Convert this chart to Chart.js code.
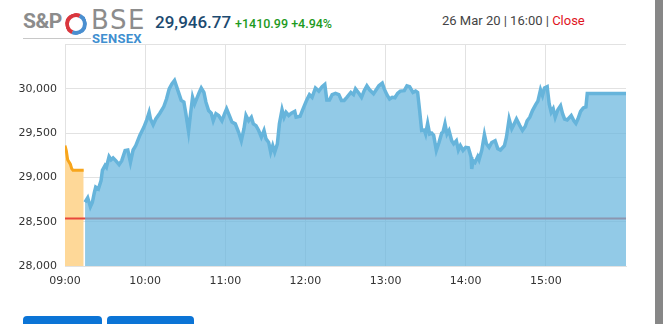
<!DOCTYPE html>
<html>
<head>
<meta charset="utf-8">
<script src="https://cdn.jsdelivr.net/npm/chart.js@4.4.1/dist/chart.umd.min.js"></script>
<style>
  body { margin: 0; width: 663px; height: 324px; overflow: hidden; background: #fff; position: relative; font-family: Roboto, sans-serif; }
  #logo { position: absolute; left: 23px; top: 8px; width: 125px; height: 40px; }
  #sp { position: absolute; left: 0; top: 1px; font: bold 21px Roboto, sans-serif; color: #8c8c8c; letter-spacing: -0.5px; }
  #swirl { position: absolute; left: 42px; top: 5px; width: 14px; height: 14px; border-radius: 50%;
           border: 4px solid #d9363e; border-bottom-color: #4a8fd0; border-right-color: #4a8fd0; transform: rotate(-20deg); }
  #bse { position: absolute; left: 68px; top: -3px; font: 26px "DejaVu Sans", sans-serif; color: #8c8c8c; letter-spacing: 1.5px; }
  #sensex { position: absolute; left: 69px; top: 23px; font: bold 13px Roboto, sans-serif; color: #3f8fd0; letter-spacing: 0.3px; }
  #rule { position: absolute; left: 0; top: 30px; width: 68px; height: 1px; background: #c8c8c8; }
  #price { position: absolute; left: 155px; top: 12px; font: 500 17px Roboto, sans-serif; color: #1c4a70; }
  #chg { position: absolute; left: 235px; top: 16px; font: 500 12.5px Roboto, sans-serif; color: #1e9a1e; }
  #stamp { position: absolute; left: 442px; top: 13px; font: 13px Roboto, sans-serif; color: #444; }
  #stamp span { color: #e0141e; }
  #scroll { position: absolute; left: 655px; top: 0; width: 8px; height: 324px; background: #878787; }
  .btn { position: absolute; top: 316px; height: 14px; background: #0b74d6; border-radius: 4px 4px 0 0; }
  #wrap { position: absolute; left: 0; top: 30px; width: 640px; height: 267px; }
</style>
</head>
<body>
<div id="logo">
  <div id="sp">S&amp;P</div>
  <div id="swirl"></div>
  <div id="bse">BSE</div>
  <div id="sensex">SENSEX</div>
  <div id="rule"></div>
</div>
<div id="price">29,946.77</div>
<div id="chg">+1410.99 +4.94%</div>
<div id="stamp">26 Mar 20 | 16:00 | <span>Close</span></div>
<div id="scroll"></div>
<div class="btn" style="left:23px;width:79px"></div>
<div class="btn" style="left:107px;width:87px"></div>
<div id="wrap"><canvas id="sensexChart"></canvas></div>

<script>
// minutes since 09:00
const timeLabels = ['09:00', '10:00', '11:00', '12:00', '13:00', '14:00', '15:00'];
const prevClose = 28535.78;

const preOpenTimes = [0, 1, 2, 4, 5, 6, 14];
const preOpenValues = [29360, 29300, 29200, 29150, 29100, 29080, 29080];

const sessionTimes = [
  15, 17, 19, 20.5, 22, 23, 25, 27, 28, 30,
  31, 33, 34.5, 36, 38, 40.5, 42.5, 45, 47, 49,
  51, 53, 56, 59, 61, 63, 64, 66, 68, 71,
  74, 76, 78, 80, 82, 85, 87, 89, 90.5, 92.5,
  94, 95.5, 97, 99, 100.5, 102, 104, 105.5, 107.5, 109.5,
  111, 113, 115, 117.5, 119.5, 121, 123, 125, 127.5, 130,
  132, 134, 135.5, 137.5, 139.5, 141, 143, 145, 147, 149,
  150.5, 152.5, 154, 155.5, 157, 159, 160.5, 162.5, 164, 165.5,
  167.5, 169.5, 172, 173, 176, 178, 181, 183, 185, 187.5,
  190, 192.5, 194.5, 196, 198, 200, 202.5, 205, 207, 209,
  211, 214, 216, 217.5, 220, 222, 224, 226, 228, 231,
  233, 235, 237.5, 239, 241, 243, 245, 247, 249, 251,
  254, 256, 258, 260.5, 262.5, 264, 265.5, 267, 269, 270,
  271.5, 273, 274.5, 276, 278, 280, 282, 283, 284.5, 286,
  287.5, 289.5, 291, 293, 294.5, 296, 298, 300, 302, 304,
  304.5, 305.5, 307, 309, 310, 312, 314, 315.5, 317.5, 319.5,
  322, 324, 326, 329, 330.5, 332.5, 334.5, 336, 338, 340.5,
  342.5, 344.5, 346, 348, 350, 352.5, 354, 356, 357.5, 359,
  361, 362.5, 364, 365.5, 367, 369, 371, 372.5, 374, 376,
  379, 381, 382.5, 384, 386, 388, 390, 391, 420
];
const sessionValues = [
  28720, 28770, 28670, 28720, 28830, 28890, 28870, 28965, 29080, 29135,
  29115, 29235, 29200, 29220, 29190, 29145, 29190, 29305, 29310, 29170,
  29310, 29360, 29475, 29565, 29640, 29735, 29660, 29595, 29660, 29725,
  29800, 29885, 30000, 30055, 30095, 29960, 29870, 29850, 29720, 29520,
  29720, 29905, 29830, 29905, 29960, 30010, 29960, 29850, 29755, 29725,
  29640, 29720, 29700, 29640, 29720, 29775, 29700, 29625, 29605, 29510,
  29415, 29550, 29700, 29640, 29680, 29605, 29585, 29530, 29455, 29530,
  29435, 29395, 29285, 29360, 29285, 29380, 29605, 29765, 29680, 29735,
  29700, 29725, 29745, 29680, 29690, 29765, 29875, 29935, 29905, 30010,
  29975, 30025, 30050, 29875, 29875, 29935, 29950, 29935, 29870, 29870,
  29905, 29960, 29935, 30000, 29950, 29905, 29980, 30035, 29990, 29945,
  29990, 30035, 30065, 30000, 29935, 29885, 29905, 29900, 29950, 29975,
  29980, 30035, 30025, 29960, 29975, 29960, 29755, 29530, 29535, 29490,
  29610, 29490, 29500, 29475, 29305, 29395, 29500, 29510, 29605, 29490,
  29530, 29415, 29380, 29415, 29310, 29360, 29305, 29340, 29335, 29230,
  29095, 29190, 29170, 29235, 29200, 29305, 29485, 29380, 29340, 29395,
  29415, 29325, 29310, 29360, 29455, 29660, 29550, 29595, 29660, 29585,
  29530, 29575, 29640, 29680, 29755, 29825, 29860, 29990, 29925, 30010,
  30025, 29830, 29735, 29775, 29680, 29765, 29810, 29720, 29660, 29650,
  29700, 29640, 29610, 29660, 29745, 29785, 29795, 29946.77, 29946.77
];

const toPoints = (xs, ys) => xs.map((x, i) => ({ x: x, y: ys[i] }));

const ctx = document.getElementById('sensexChart').getContext('2d');
new Chart(ctx, {
  type: 'line',
  data: {
    datasets: [
      {
        label: 'Session',
        data: toPoints(sessionTimes, sessionValues),
        borderColor: '#66b4db',
        backgroundColor: 'rgba(104,182,222,0.72)',
        borderWidth: 3.5,
        fill: 'start',
        pointRadius: 0,
        tension: 0,
        order: 0
      },
      {
        label: 'Previous close',
        data: [{ x: 0, y: prevClose }, { x: 420, y: prevClose }],
        borderColor: '#e8473c',
        borderWidth: 2,
        fill: false,
        pointRadius: 0,
        order: 1
      },
      {
        label: 'Pre-open',
        data: toPoints(preOpenTimes, preOpenValues),
        borderColor: '#f7a51c',
        backgroundColor: '#fed898',
        borderWidth: 3,
        fill: 'start',
        pointRadius: 0,
        tension: 0,
        order: 2
      }
    ]
  },
  options: {
    responsive: true,
    maintainAspectRatio: false,
    animation: false,
    layout: { padding: { top: 6, right: 14, left: 0, bottom: 0 } },
    plugins: { legend: { display: false }, tooltip: { enabled: false } },
    scales: {
      x: {
        type: 'linear',
        min: 0,
        max: 420,
        afterBuildTicks: scale => { scale.ticks = scale.ticks.filter(t => t.value < 420); },
        afterFit: scale => { scale.height = 31; },
        ticks: {
          stepSize: 60,
          autoSkip: false,
          maxRotation: 0,
          padding: 9,
          color: '#333',
          font: { family: 'DejaVu Sans', size: 11 },
          callback: value => timeLabels[value / 60]
        },
        grid: { color: '#e2e2e2', drawTicks: false },
        border: { color: '#e2e2e2' }
      },
      y: {
        min: 28000,
        max: 30500,
        afterFit: scale => { scale.width = 65; },
        ticks: {
          stepSize: 500,
          padding: 8,
          color: '#333',
          font: { family: 'DejaVu Sans', size: 11 },
          callback: value => value >= 30500 ? '' : value.toLocaleString('en-US')
        },
        grid: { color: '#e2e2e2', drawTicks: false },
        border: { color: '#e2e2e2' }
      }
    }
  }
});
</script>
</body>
</html>
